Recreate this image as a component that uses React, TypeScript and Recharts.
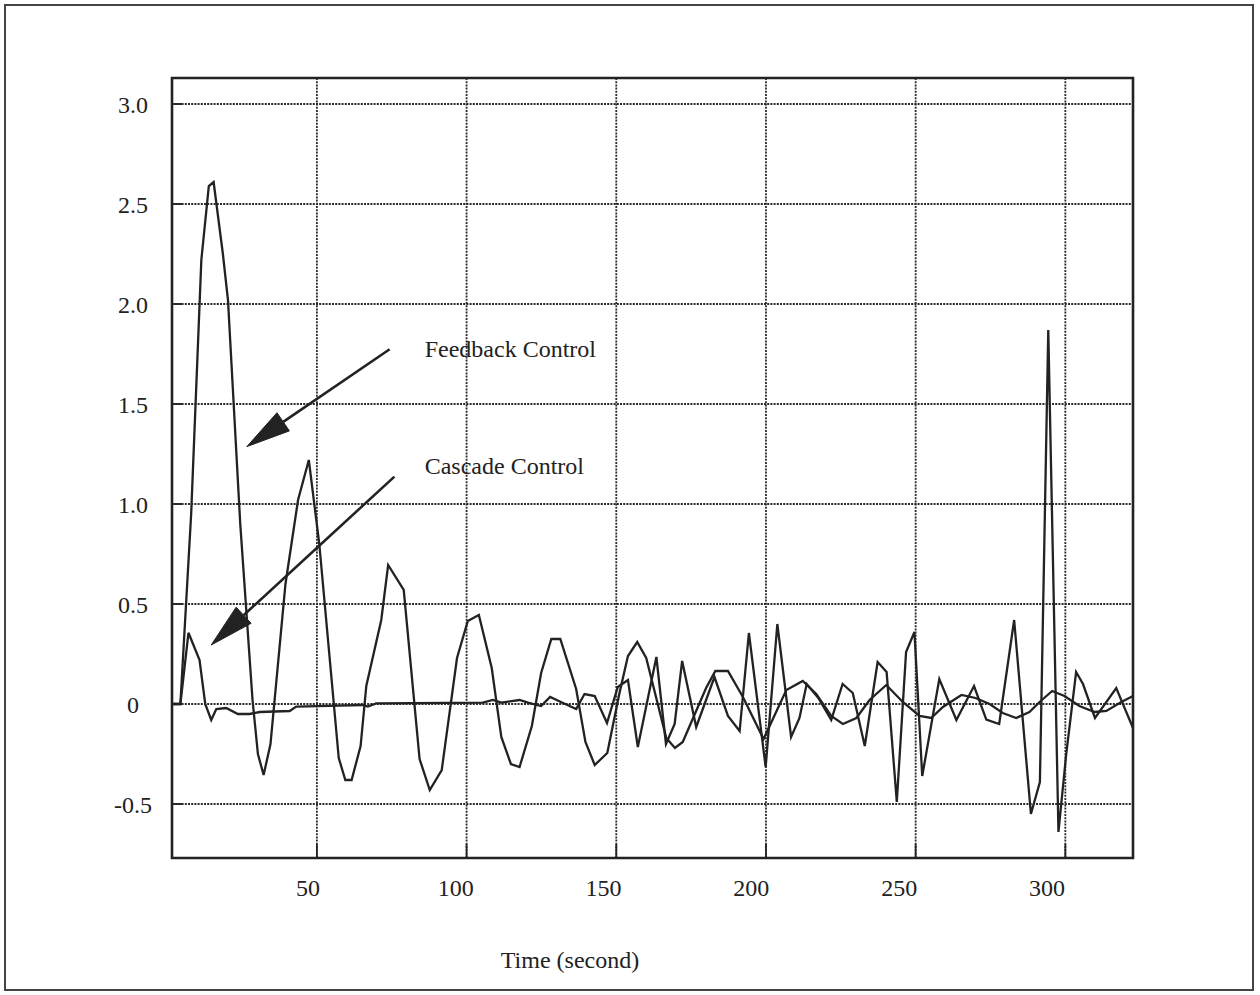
import React from 'react';
import { LineChart, Line, XAxis, YAxis, CartesianGrid, ReferenceArea, ReferenceLine, ReferenceDot } from 'recharts';

// ---- data ----
const feedbackTime = [1.6, 4.4, 8.0, 11.4, 13.9, 15.5, 18.6, 20.3, 24.4, 28.5, 30.3, 32.2, 34.5, 39.5, 43.7, 47.3, 50.8, 57.3, 59.5, 61.6, 64.6, 66.5, 71.5, 73.8, 79.0, 84.3, 87.7, 91.7, 96.8, 100.4, 104.1, 108.4, 111.6, 114.8, 117.7, 121.8, 124.9, 128.3, 131.3, 136.6, 139.7, 142.8, 147.0, 151.0, 153.9, 157.0, 160.0, 166.7, 169.6, 172.2, 180.0, 183.1, 187.3, 192.3, 199.2, 206.8, 212.3, 216.8, 221.8, 225.7, 230.2, 234.6, 240.2, 245.7, 251.3, 255.2, 259.1, 265.3, 270.0, 274.7, 279.1, 283.6, 288.0, 291.4, 295.6, 299.7, 304.7, 309.8, 313.7, 318.7, 322.6];
const feedbackValue = [0, 0, 0.95, 2.22, 2.59, 2.61, 2.25, 2.02, 0.9, 0.02, -0.25, -0.355, -0.2, 0.6, 1.02, 1.22, 0.8, -0.27, -0.38, -0.38, -0.21, 0.09, 0.42, 0.695, 0.57, -0.275, -0.43, -0.33, 0.23, 0.415, 0.445, 0.18, -0.165, -0.3, -0.315, -0.11, 0.155, 0.325, 0.325, 0.075, -0.19, -0.305, -0.245, 0.05, 0.24, 0.31, 0.23, -0.17, -0.22, -0.19, 0.08, 0.165, 0.165, 0.035, -0.175, 0.07, 0.115, 0.05, -0.06, -0.1, -0.07, 0.02, 0.095, 0.01, -0.06, -0.07, -0.015, 0.045, 0.03, 0, -0.045, -0.07, -0.04, 0.01, 0.065, 0.04, -0.01, -0.04, -0.035, 0.01, 0.04];

const cascadeTime = [1.6, 4.4, 7.1, 10.8, 12.7, 14.7, 16.4, 19.7, 23.6, 27.5, 30.9, 40.9, 43.1, 57.6, 65.4, 67.0, 69.8, 105.4, 108.8, 111.6, 117.7, 120.5, 124.9, 127.9, 131.5, 136.6, 139.4, 142.8, 146.9, 150.5, 153.9, 157.2, 163.4, 166.6, 169.5, 172.0, 176.7, 182.8, 187.3, 191.2, 194.3, 199.9, 203.8, 208.4, 211.2, 213.6, 217.5, 221.8, 225.6, 229.0, 233.0, 237.3, 240.3, 243.7, 246.8, 249.6, 252.2, 257.9, 263.6, 269.5, 273.6, 277.9, 282.9, 288.5, 291.5, 294.3, 297.7, 300.3, 303.6, 305.9, 309.9, 317.0, 322.6];
const cascadeValue = [0, 0, 0.356, 0.22, 0, -0.08, -0.025, -0.02, -0.05, -0.05, -0.04, -0.035, -0.013, -0.008, -0.005, -0.013, 0.003, 0.007, 0.02, 0.007, 0.02, 0.007, -0.01, 0.035, 0.01, -0.025, 0.05, 0.04, -0.095, 0.085, 0.12, -0.215, 0.235, -0.2, -0.1, 0.215, -0.115, 0.135, -0.06, -0.135, 0.355, -0.315, 0.4, -0.165, -0.07, 0.1, 0.03, -0.08, 0.1, 0.055, -0.21, 0.21, 0.16, -0.49, 0.26, 0.36, -0.36, 0.125, -0.08, 0.09, -0.078, -0.1, 0.42, -0.55, -0.39, 1.87, -0.64, -0.25, 0.16, 0.1, -0.07, 0.08, -0.12];

const xTicks = [50, 100, 150, 200, 250, 300];
const yTicks = [-0.5, 0, 0.5, 1.0, 1.5, 2.0, 2.5, 3.0];
const X_MIN = 1.6;
const X_MAX = 322.6;
const Y_MIN = -0.77;
const Y_MAX = 3.13;

const xTitle = 'Time (second)';
const feedbackLabel = 'Feedback Control';
const cascadeLabel = 'Cascade Control';
// annotation anchors in data units: [time, value]
const feedbackArrow = [[74.3, 1.774], [26.6, 1.287]];
const cascadeArrow = [[75.9, 1.137], [14.7, 0.295]];
const feedbackTextAt = [86.0, 1.733];
const cascadeTextAt = [86.0, 1.15];

const feedbackData = feedbackTime.map((t, i) => ({ t, v: feedbackValue[i] }));
const cascadeData = cascadeTime.map((t, i) => ({ t, v: cascadeValue[i] }));

const FONT = "'Liberation Serif', 'Times New Roman', serif";
const INK = '#222';

const XTick = (props: any) => {
  const { x, y, payload } = props;
  const off = -7 - 0.038 * payload.value;
  return (
    <g>
      <line x1={x} x2={x} y1={y} y2={y - 14} stroke={INK} strokeWidth={1.8} />
      <text x={x + off} y={y + 29} dy="0.355em" textAnchor="middle" fill={INK} fontFamily={FONT} fontSize={24}>
        {payload.value}
      </text>
    </g>
  );
};

const YTick = (props: any) => {
  const { x, y, payload } = props;
  const v = payload.value;
  const label = v === 0 ? '0' : v.toFixed(1);
  return (
    <g>
      <line x1={x} x2={x + 10} y1={y} y2={y} stroke={INK} strokeWidth={1.8} />
      <text x={x - 39} y={y} dy="0.355em" textAnchor="middle" fill={INK} fontFamily={FONT} fontSize={24}>
        {label}
      </text>
    </g>
  );
};

const TitleLabel = (props: any) => {
  const vb = props.viewBox || {};
  return (
    <text x={vb.x + 398} y={vb.y + 101} dy="0.355em" textAnchor="middle" fill={INK} fontFamily={FONT} fontSize={24}>
      {xTitle}
    </text>
  );
};

const Arrow = (props: any) => {
  const { x1, y1, x2, y2 } = props;
  const dx = x2 - x1;
  const dy = y2 - y1;
  const len = Math.sqrt(dx * dx + dy * dy) || 1;
  const ux = dx / len;
  const uy = dy / len;
  const headLen = 44;
  const headHalf = 11;
  const bx = x2 - ux * headLen;
  const by = y2 - uy * headLen;
  const px = -uy;
  const py = ux;
  return (
    <g>
      <line x1={x1} y1={y1} x2={bx} y2={by} stroke={INK} strokeWidth={2.6} />
      <polygon
        points={`${x2},${y2} ${bx + px * headHalf},${by + py * headHalf} ${bx - px * headHalf},${by - py * headHalf}`}
        fill={INK}
        stroke={INK}
        strokeWidth={1}
      />
    </g>
  );
};

const makeTextShape = (txt: string) => (props: any) => (
  <text x={props.cx} y={props.cy} fill={INK} fontFamily={FONT} fontSize={24}>
    {txt}
  </text>
);

export default function App() {
  return (
    <div style={{ position: 'absolute', left: 0, top: 0, width: 1260, height: 995, background: '#fff' }}>
      <div
        style={{
          position: 'absolute',
          left: 4,
          top: 4,
          width: 1250,
          height: 987,
          border: '2px solid #444',
          boxSizing: 'border-box',
        }}
      />
      <div style={{ position: 'absolute', left: 0, top: 0 }}>
        <LineChart width={1260} height={995} margin={{ top: 78, right: 127, bottom: 0, left: 0 }}>
          <CartesianGrid stroke="#2a2a2a" strokeWidth={1.8} strokeDasharray="2 1.2" />
          <XAxis
            dataKey="t"
            type="number"
            domain={[X_MIN, X_MAX]}
            ticks={xTicks}
            allowDataOverflow
            height={137}
            axisLine={false}
            tickLine={false}
            tickSize={0}
            tickMargin={0}
            tick={<XTick />}
            interval={0}
            label={{ value: xTitle, content: <TitleLabel /> }}
          />
          <YAxis
            type="number"
            domain={[Y_MIN, Y_MAX]}
            ticks={yTicks}
            allowDataOverflow
            width={172}
            axisLine={false}
            tickLine={false}
            tickSize={0}
            tickMargin={0}
            tick={<YTick />}
            interval={0}
          />
          <Line data={feedbackData} dataKey="v" type="linear" stroke={INK} strokeWidth={2.3} dot={false} isAnimationActive={false} />
          <Line data={cascadeData} dataKey="v" type="linear" stroke={INK} strokeWidth={2.3} dot={false} isAnimationActive={false} />
          <ReferenceArea x1={X_MIN} x2={X_MAX} y1={Y_MIN} y2={Y_MAX} fill="none" fillOpacity={0} stroke={INK} strokeWidth={2.6} />
          <ReferenceLine
            segment={[{ x: feedbackArrow[0][0], y: feedbackArrow[0][1] }, { x: feedbackArrow[1][0], y: feedbackArrow[1][1] }]}
            shape={<Arrow />}
            ifOverflow="visible"
          />
          <ReferenceLine
            segment={[{ x: cascadeArrow[0][0], y: cascadeArrow[0][1] }, { x: cascadeArrow[1][0], y: cascadeArrow[1][1] }]}
            shape={<Arrow />}
            ifOverflow="visible"
          />
          <ReferenceDot x={feedbackTextAt[0]} y={feedbackTextAt[1]} r={0} shape={makeTextShape(feedbackLabel)} ifOverflow="visible" />
          <ReferenceDot x={cascadeTextAt[0]} y={cascadeTextAt[1]} r={0} shape={makeTextShape(cascadeLabel)} ifOverflow="visible" />
        </LineChart>
      </div>
    </div>
  );
}
